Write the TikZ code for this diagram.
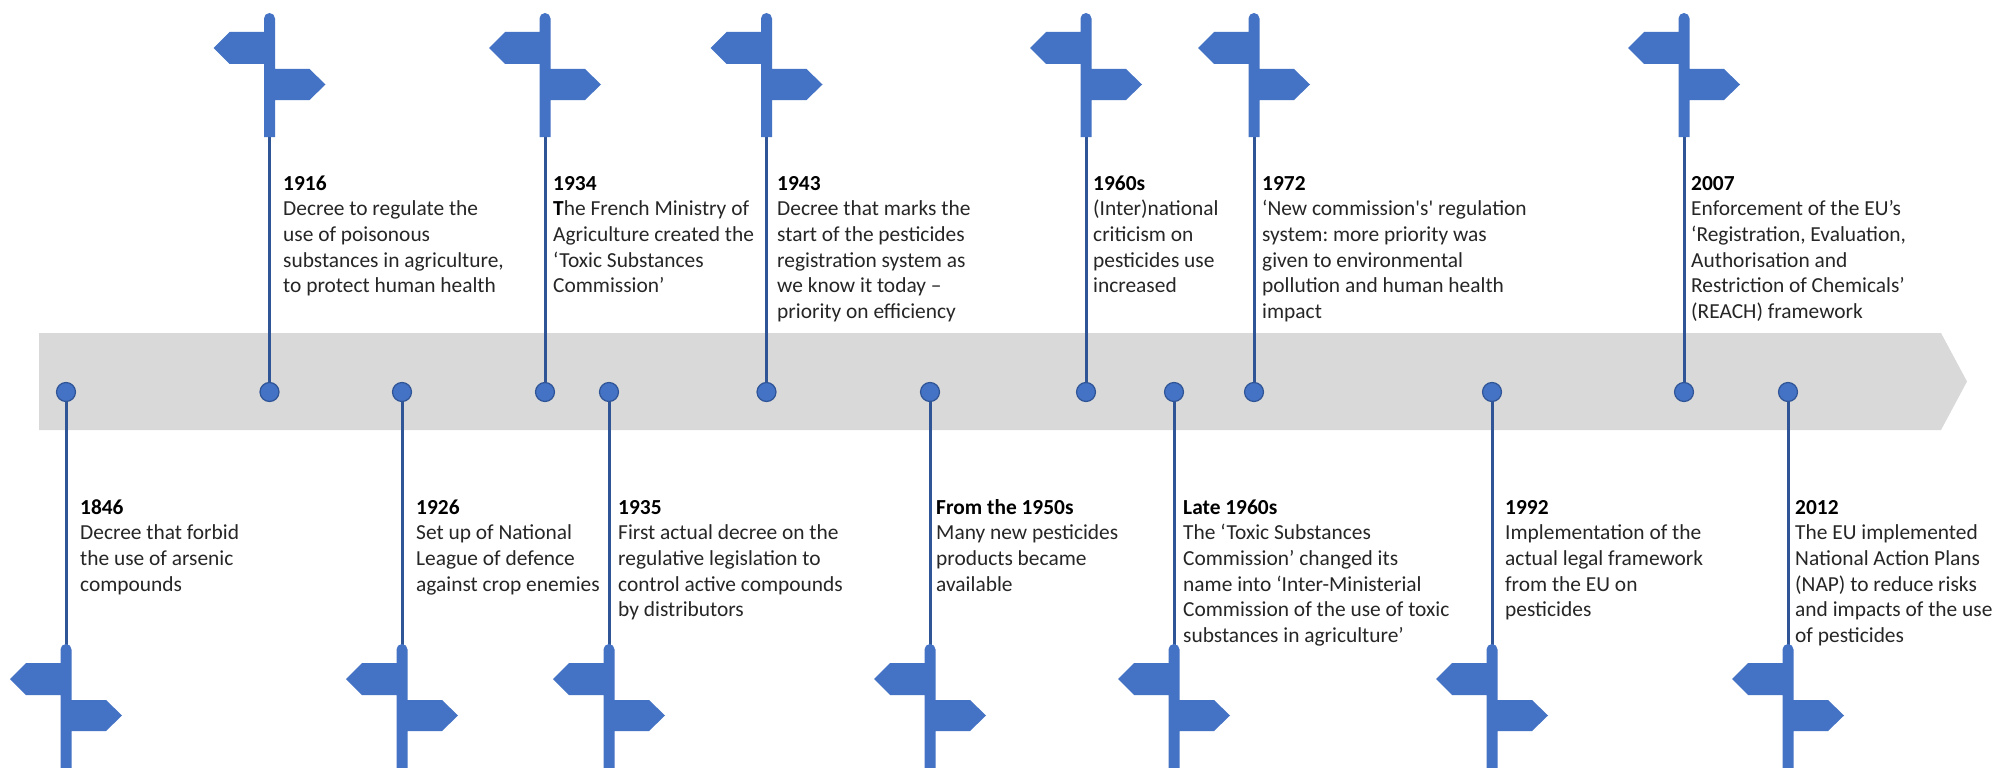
\documentclass[tikz,border=0pt]{standalone}
\usepackage{fontspec}
\setmainfont{Carlito}
\definecolor{stemblue}{HTML}{2F5597}
\definecolor{signblue}{HTML}{4472C4}
\definecolor{bandgrey}{HTML}{D9D9D9}
\definecolor{bodytext}{HTML}{262626}
\tikzset{
  band/.style={fill=bandgrey,draw=none},
  dot/.style={circle,fill=signblue,draw=stemblue,line width=1.2pt,inner sep=0pt,minimum size=19pt},
  stem/.style={draw=stemblue,line width=3pt},
  signshape/.style={fill=signblue,draw=none},
  note/.style={anchor=north west,inner sep=0pt,align=left,text=bodytext,font=\fontsize{21.4}{25.7}\selectfont\frenchspacing}
}
\newcommand{\yr}[1]{\textbf{\textcolor{black}{\strut #1}}}
% #1 pole x, #2 pole top y, #3 pole bottom y
\newcommand{\signpost}[3]{%
  \fill[signshape] (#1-5.5,#2+5.5) arc[start angle=180,end angle=360,radius=5.5]
    -- (#1+5.5,#2+56) -- (#1+40,#2+56) -- (#1+56,#2+71.5) -- (#1+40,#2+87)
    -- (#1+5.5,#2+87) -- (#1+5.5,#3) -- (#1-5.5,#3) -- (#1-5.5,#2+51)
    -- (#1-40,#2+51) -- (#1-56,#2+35) -- (#1-40,#2+19) -- (#1-5.5,#2+19) -- cycle;
}
% #1 name, #2 x, #3 text x, #4 text
\newcommand{\upevent}[4]{%
  \node[dot] (d#1) at (#2,392) {};
  \coordinate (s#1) at (#2,137);
  \draw[stem] (d#1) -- (s#1);
  \signpost{#2}{13}{137}
  \node[note] (t#1) at (#3,172) {#4};
}
\newcommand{\downevent}[4]{%
  \node[dot] (d#1) at (#2,392) {};
  \coordinate (s#1) at (#2,650);
  \draw[stem] (d#1) -- (s#1);
  \signpost{#2}{644}{768}
  \node[note] (t#1) at (#3,496) {#4};
}
\begin{document}
\begin{tikzpicture}[x=1pt,y=-1pt]
\useasboundingbox (0,0) rectangle (1998,768);
\fill[white] (0,0) rectangle (1998,768);
\path[band] (39,333) -- (1941,333) -- (1967,381.5) -- (1941,430) -- (39,430) -- cycle;

\downevent{a}{66}{80}{\yr{1846}\\Decree that forbid\\the use of arsenic\\compounds}
\upevent{b}{269.5}{283}{\yr{1916}\\Decree to regulate the\\use of poisonous\\substances in agriculture,\\to protect human health}
\downevent{c}{402}{416}{\yr{1926}\\Set up of National\\League of defence\\against crop enemies}
\upevent{d}{545}{553}{\yr{1934}\\\textbf{\textcolor{black}{T}}he French Ministry of\\Agriculture created the\\‘Toxic Substances\\Commission’}
\downevent{e}{609}{618}{\yr{1935}\\First actual decree on the\\regulative legislation to\\control active compounds\\by distributors}
\upevent{f}{766.5}{777}{\yr{1943}\\Decree that marks the\\start of the pesticides\\registration system as\\we know it today –\\priority on efficiency}
\downevent{g}{930}{936}{\yr{From the 1950s}\\Many new pesticides\\products became\\available}
\upevent{h}{1086}{1093}{\yr{1960s}\\(Inter)national\\criticism on\\pesticides use\\increased}
\downevent{i}{1174}{1183}{\yr{Late 1960s}\\The ‘Toxic Substances\\Commission’ changed its\\name into ‘Inter-Ministerial\\Commission of the use of toxic\\substances in agriculture’}
\upevent{j}{1254}{1262}{\yr{1972}\\‘New commission\textquotesingle s\textquotesingle{} regulation\\system: more priority was\\given to environmental\\pollution and human health\\impact}
\downevent{k}{1492}{1505}{\yr{1992}\\Implementation of the\\actual legal framework\\from the EU on\\pesticides}
\upevent{l}{1684}{1691}{\yr{2007}\\Enforcement of the EU’s\\‘Registration, Evaluation,\\Authorisation and\\Restriction of Chemicals’\\(REACH) framework}
\downevent{m}{1788}{1795}{\yr{2012}\\The EU implemented\\National Action Plans\\(NAP) to reduce risks\\and impacts of the use\\of pesticides}
\end{tikzpicture}
\end{document}
